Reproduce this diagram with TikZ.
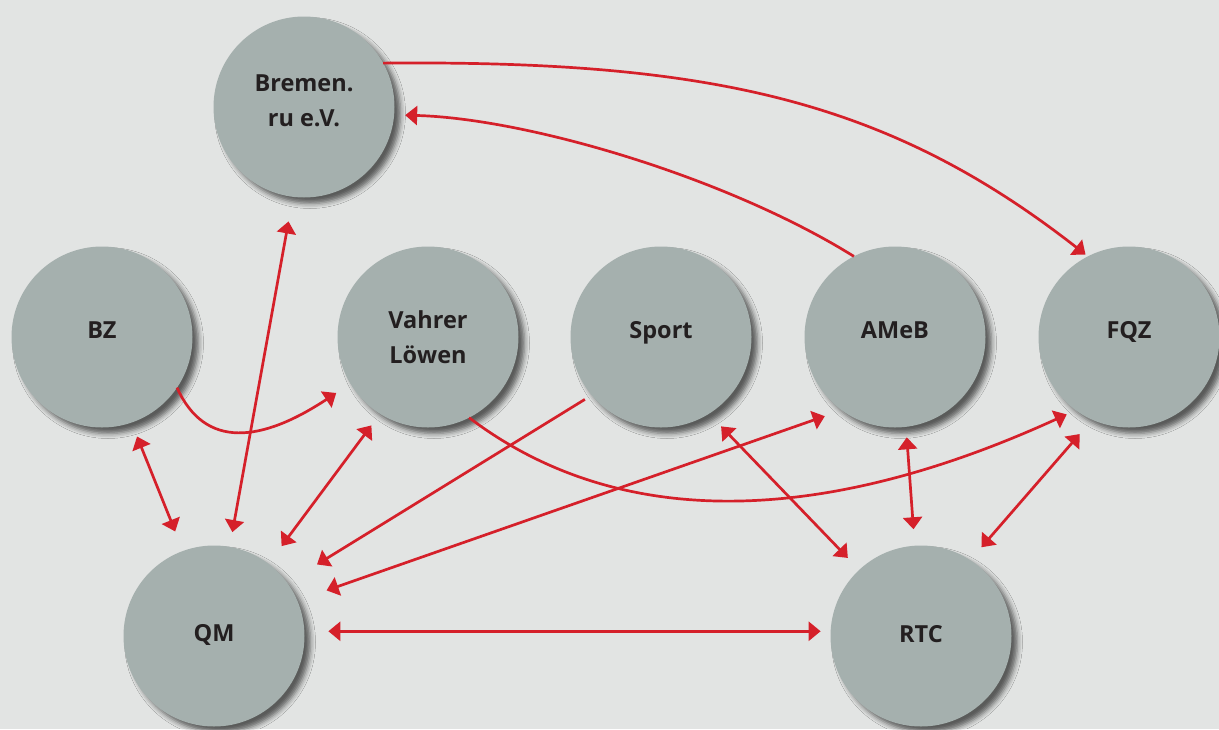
\documentclass[tikz,border=0pt]{standalone}
\usepackage{fontspec}
\setmainfont{Open Sans}
\usetikzlibrary{arrows.meta,shadows.blur}
\definecolor{bg}{HTML}{E2E4E3}
\definecolor{disc}{HTML}{A5B0AE}
\definecolor{arrowred}{HTML}{D5202A}
\definecolor{ink}{HTML}{231F20}
\begin{document}
\begin{tikzpicture}[x=1pt,y=-1pt,
  >={Triangle[length=12pt,width=19pt]},
  org/.style={circle, minimum size=181pt, inner sep=0pt, outer sep=0pt, fill=disc,
    blur shadow={shadow xshift=6pt, shadow yshift=-6pt, shadow blur radius=5pt, shadow opacity=60}},
  lbl/.style={font=\bfseries\fontsize{23.5}{35}\selectfont, text=ink, align=center, inner sep=0pt},
  link/.style={draw=arrowred, line width=2.7pt}
]
\fill[bg] (0,0) rectangle (1219,729);
\useasboundingbox (0,0) rectangle (1219,729);

% organisations
\node[org] (Bremen) at (304,107) {};
\node[org] (BZ) at (102,337) {};
\node[org] (Vahrer) at (428,337) {};
\node[org] (Sport) at (661,337) {};
\node[org] (AMeB) at (895,337) {};
\node[org] (FQZ) at (1129,337) {};
\node[org] (QM) at (214,636) {};
\node[org] (RTC) at (921,636) {};

% labels
\node[lbl] (BremenT) at (304,100.5) {Bremen.\\ru e.V.};
\node[lbl] (BZT) at (102,330.5) {BZ};
\node[lbl] (VahrerT) at (428,337.5) {Vahrer\\Löwen};
\node[lbl] (SportT) at (661,333) {Sport};
\node[lbl] (AMeBT) at (895,330.5) {AMeB};
\node[lbl] (FQZT) at (1129,331.5) {FQZ};
\node[lbl] (QMT) at (214,635) {QM};
\node[lbl] (RTCT) at (921,634) {RTC};

% curved connectors
\draw[link,->,shorten >=3pt] (Bremen.29) .. controls (713,60) and (889,101) .. (FQZ.117);
\draw[link,->,shorten >=11pt] (AMeB.117) .. controls (725.5,176.5) and (526,118.4) .. (Bremen.-5);
\draw[link,->,shorten >=17pt] (BZ.-34) .. controls (205,450) and (262,442) .. (Vahrer.211);
\draw[link,->,shorten >=10pt] (Vahrer.-63) .. controls (629,539) and (840,518) .. (FQZ.234);

% straight connectors
\draw[link,<->,shorten <=25pt,shorten >=15pt] (Bremen.-97.8) -- (QM.80.4);
\draw[link,<->,shorten <=15pt,shorten >=21pt] (BZ.-71.2) -- (QM.110.5);
\draw[link,<->,shorten <=14.5pt,shorten >=22pt] (Vahrer.238.6) -- (QM.53.8);
\draw[link,->,shorten <=8pt,shorten >=35pt] (Sport.220.3) -- (QM.36.3);
\draw[link,<->,shorten <=18pt,shorten >=31pt] (AMeB.234.3) -- (QM.23.3);
\draw[link,<->,shorten <=17.5pt,shorten >=16.5pt] (Sport.-58.6) -- (RTC.133.5);
\draw[link,<->,shorten <=10.5pt,shorten >=16.5pt] (AMeB.-83.3) -- (RTC.94.4);
\draw[link,<->,shorten <=19pt,shorten >=17pt] (FQZ.246.3) -- (RTC.57.8);
\draw[link,<->,shorten <=24pt,shorten >=10pt] (QM.3.4) -- (RTC.177.5);
\end{tikzpicture}
\end{document}
